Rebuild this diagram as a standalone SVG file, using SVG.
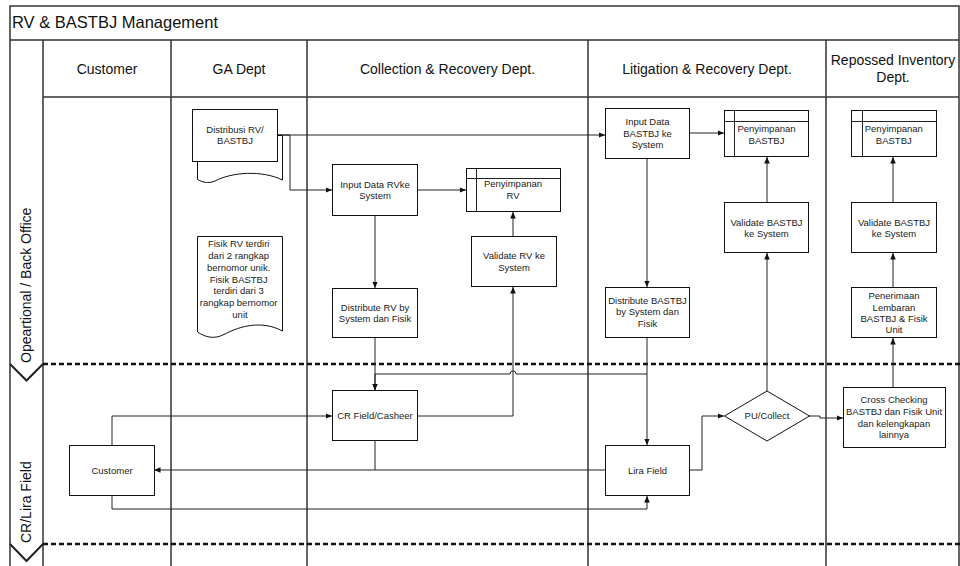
<svg xmlns="http://www.w3.org/2000/svg" width="960" height="566" viewBox="0 0 960 566">
  <style>
    .frame { fill: none; stroke: #333; stroke-width: 1.5; }
    .sep { fill: none; stroke: #111; stroke-width: 2.5; stroke-dasharray: 5 3; }
    .chev { fill: none; stroke: #222; stroke-width: 2; }
    .box { fill: #fff; stroke: #111; stroke-width: 1; }
    .con { fill: none; stroke: #222; stroke-width: 1; }
    .arr { marker-end: url(#head); }
    text { font-family: "Liberation Sans", Arial, sans-serif; fill: #222; }
    .t { font-size: 9.5px; text-anchor: middle; }
    .h { font-size: 14px; text-anchor: middle; fill: #111; }
    .title { font-size: 16.5px; fill: #111; }
    .lane { font-size: 14px; fill: #111; }
  </style>
  <defs>
    <marker id="head" markerUnits="userSpaceOnUse" markerWidth="8" markerHeight="8" refX="6.5" refY="3" orient="auto">
      <path d="M0,0.2 L6.5,3 L0,5.8 Z" fill="#111"/>
    </marker>
  </defs>

  <rect width="960" height="566" fill="#fff"/>

  <!-- pool frame, title bar, columns -->
  <g id="pool">
    <path class="frame" d="M10,566 V6 H959 V566"/>
    <path class="frame" d="M10,40 H959"/>
    <path class="frame" d="M43,97 H959"/>
    <path class="frame" d="M43,40 V566 M171,40 V566 M307,40 V566 M588,40 V566 M826,40 V566"/>
    <text class="title" x="12" y="28">RV &amp; BASTBJ Management</text>
    <text class="h" x="107" y="73.5">Customer</text>
    <text class="h" x="239" y="73.5">GA Dept</text>
    <text class="h" x="447.5" y="73.5">Collection &amp; Recovery Dept.</text>
    <text class="h" x="707" y="73.5">Litigation &amp; Recovery Dept.</text>
    <text class="h" x="893" y="65">Repossed Inventory</text>
    <text class="h" x="893" y="82">Dept.</text>
  </g>

  <!-- horizontal lanes -->
  <g id="lane-backoffice">
    <path class="chev" d="M10,364 L26.5,380.5 L43,364"/>
    <path class="sep" d="M43,364 H960"/>
    <text class="lane" transform="translate(31,363) rotate(-90)">Opeartional / Back Office</text>
  </g>
  <g id="lane-field">
    <path class="chev" d="M10,544 L26.5,561 L43,544"/>
    <path class="sep" d="M43,544 H960"/>
    <text class="lane" transform="translate(31,543) rotate(-90)">CR/Lira Field</text>
  </g>

  <!-- connectors -->
  <g id="connectors">
    <path class="con arr" d="M277,135 H605"/>
    <path class="con arr" d="M277,135 H290 V190 H332"/>
    <path class="con arr" d="M418,190 H466"/>
    <path class="con arr" d="M375,216 V288"/>
    <path class="con arr" d="M375,338 V390"/>
    <path class="con arr" d="M647,374 H516 a3,3 0 0 0 -6,0 H375 V390"/>
    <path class="con arr" d="M647,159 V287"/>
    <path class="con arr" d="M647,338 V445"/>
    <path class="con arr" d="M690,133 H724"/>
    <path class="con arr" d="M767,202 V157"/>
    <path class="con arr" d="M767,391 V253"/>
    <path class="con arr" d="M690,470 H702 V416 H724"/>
    <path class="con arr" d="M809,416 H820 V418 H843"/>
    <path class="con arr" d="M893,387 V338"/>
    <path class="con arr" d="M893,287 V253"/>
    <path class="con arr" d="M893,202 V157"/>
    <path class="con arr" d="M513,236 V212"/>
    <path class="con arr" d="M418,416 H513 V287"/>
    <path class="con arr" d="M375,441 V470 H154"/>
    <path class="con" d="M605,470 H375"/>
    <path class="con arr" d="M112,445 V416 H332"/>
    <path class="con arr" d="M112,496 V509 H647 V496"/>
  </g>

  <!-- GA Dept -->
  <g id="distribusi">
    <path class="box" d="M197.5,135.5 H282.5 V180 C262,170 232,172 215,181 C208,184 202,182 197.5,179.5 Z"/>
    <rect class="box" x="192.5" y="109.5" width="85" height="52"/>
    <text class="t"><tspan x="235" y="132.6">Distribusi RV/</tspan><tspan x="235" y="144.1">BASTBJ</tspan></text>
  </g>
  <g id="note-fisik">
    <path class="box" d="M197.5,236.5 H282.5 V331 C262,320 240,326 225,334 C214,340 205,337 197.5,332 Z"/>
    <text class="t">
      <tspan x="240" y="247.4">Fisik RV terdiri</tspan>
      <tspan x="240" y="259.1">dari 2 rangkap</tspan>
      <tspan x="240" y="270.8">bernomor unik.</tspan>
      <tspan x="240" y="282.5">Fisik BASTBJ</tspan>
      <tspan x="240" y="294.2">terdiri dari 3</tspan>
      <tspan x="240" y="305.9">rangkap bernomor</tspan>
      <tspan x="240" y="317.6">unit</tspan>
    </text>
  </g>

  <!-- Collection & Recovery Dept. -->
  <g id="input-rv">
    <rect class="box" x="332.5" y="164.5" width="85" height="51"/>
    <text class="t"><tspan x="375" y="187.6">Input Data RVke</tspan><tspan x="375" y="199.1">System</tspan></text>
  </g>
  <g id="simpan-rv">
    <rect class="box" x="466.5" y="168.5" width="94" height="43"/>
    <path class="con" d="M476.5,168.5 V211.5 M466.5,178.5 H560.5"/>
    <text class="t"><tspan x="513" y="187.4">Penyimpanan</tspan><tspan x="513" y="199">RV</tspan></text>
  </g>
  <g id="validate-rv">
    <rect class="box" x="471.5" y="236.5" width="85" height="50"/>
    <text class="t"><tspan x="514" y="259.4">Validate RV ke</tspan><tspan x="514" y="270.6">System</tspan></text>
  </g>
  <g id="distribute-rv">
    <rect class="box" x="332.5" y="288.5" width="85" height="49"/>
    <text class="t"><tspan x="375" y="310.7">Distribute RV by</tspan><tspan x="375" y="321.9">System dan Fisik</tspan></text>
  </g>
  <g id="cr-field">
    <rect class="box" x="332.5" y="390.5" width="85" height="50"/>
    <text class="t" x="375" y="419.3">CR Field/Casheer</text>
  </g>

  <!-- Litigation & Recovery Dept. -->
  <g id="input-bastbj">
    <rect class="box" x="605.5" y="108.5" width="84" height="50"/>
    <text class="t"><tspan x="647.5" y="125.1">Input Data</tspan><tspan x="647.5" y="136.7">BASTBJ ke</tspan><tspan x="647.5" y="148.4">System</tspan></text>
  </g>
  <g id="simpan-bastbj-lit">
    <rect class="box" x="724.5" y="110.5" width="84" height="46"/>
    <path class="con" d="M734.5,110.5 V156.5 M724.5,121.5 H808.5"/>
    <text class="t"><tspan x="766.5" y="132.4">Penyimpanan</tspan><tspan x="766.5" y="144.1">BASTBJ</tspan></text>
  </g>
  <g id="validate-bastbj-lit">
    <rect class="box" x="724.5" y="202.5" width="84" height="50"/>
    <text class="t"><tspan x="766.5" y="225.7">Validate BASTBJ</tspan><tspan x="766.5" y="237.1">ke System</tspan></text>
  </g>
  <g id="distribute-bastbj">
    <rect class="box" x="605.5" y="287.5" width="84" height="50"/>
    <text class="t"><tspan x="647.5" y="303.6">Distribute BASTBJ</tspan><tspan x="647.5" y="315.3">by System dan</tspan><tspan x="647.5" y="327">Fisik</tspan></text>
  </g>
  <g id="lira-field">
    <rect class="box" x="605.5" y="445.5" width="84" height="50"/>
    <text class="t" x="647.5" y="473.9">Lira Field</text>
  </g>
  <g id="pu-collect">
    <path class="box" d="M767,391 L809.5,416 L767,441 L724.5,416 Z"/>
    <text class="t" x="767" y="419.4">PU/Collect</text>
  </g>

  <!-- Repossed Inventory Dept. -->
  <g id="simpan-bastbj-repo">
    <rect class="box" x="851.5" y="110.5" width="85" height="46"/>
    <path class="con" d="M862.5,110.5 V156.5 M851.5,121.5 H936.5"/>
    <text class="t"><tspan x="893.8" y="132.4">Penyimpanan</tspan><tspan x="893.8" y="144.1">BASTBJ</tspan></text>
  </g>
  <g id="validate-bastbj-repo">
    <rect class="box" x="851.5" y="202.5" width="85" height="50"/>
    <text class="t"><tspan x="894" y="225.7">Validate BASTBJ</tspan><tspan x="894" y="237.1">ke System</tspan></text>
  </g>
  <g id="penerimaan">
    <rect class="box" x="851.5" y="287.5" width="85" height="50"/>
    <text class="t"><tspan x="894" y="299.4">Penerimaan</tspan><tspan x="894" y="310.7">Lembaran</tspan><tspan x="894" y="321.9">BASTBJ &amp; Fisik</tspan><tspan x="894" y="333.1">Unit</tspan></text>
  </g>
  <g id="cross-check">
    <rect class="box" x="843.5" y="387.5" width="102" height="60"/>
    <text class="t"><tspan x="894" y="403.4">Cross Checking</tspan><tspan x="894" y="415">BASTBJ dan Fisik Unit</tspan><tspan x="894" y="426.5">dan kelengkapan</tspan><tspan x="894" y="438">lainnya</tspan></text>
  </g>

  <!-- Customer -->
  <g id="customer">
    <rect class="box" x="69.5" y="445.5" width="85" height="50"/>
    <text class="t" x="112" y="473.9">Customer</text>
  </g>
</svg>
